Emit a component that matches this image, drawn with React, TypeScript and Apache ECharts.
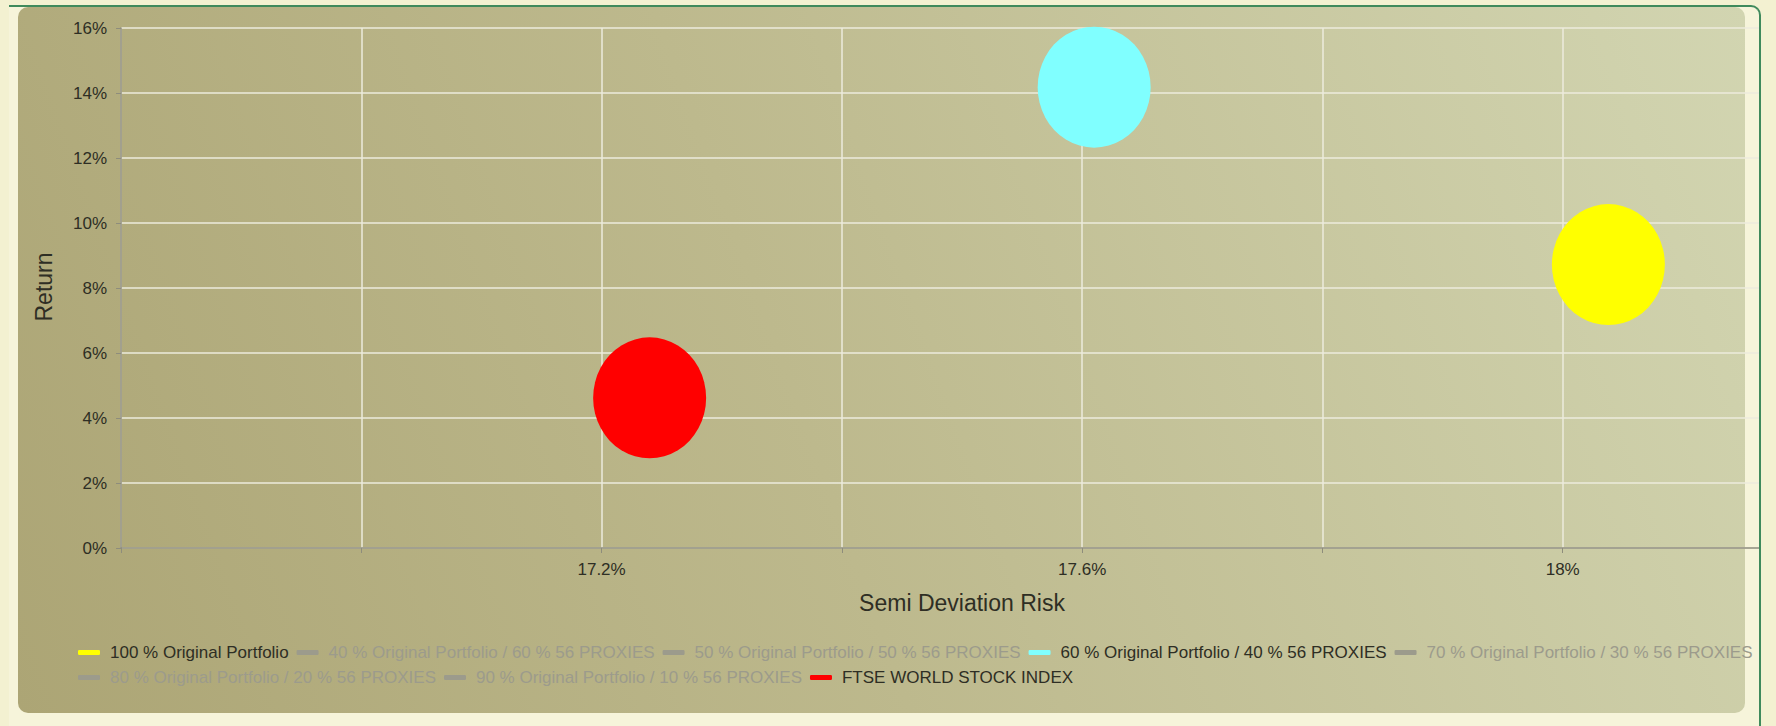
import React, { useEffect, useRef } from 'react';
import * as echarts from 'echarts';

// ---- data ----
const seriesNames = [
  '100 % Original Portfolio',
  '40 % Original Portfolio / 60 % 56 PROXIES',
  '50 % Original Portfolio / 50 % 56 PROXIES',
  '60 % Original Portfolio / 40 % 56 PROXIES',
  '70 % Original Portfolio / 30 % 56 PROXIES',
  '80 % Original Portfolio / 20 % 56 PROXIES',
  '90 % Original Portfolio / 10 % 56 PROXIES',
  'FTSE WORLD STOCK INDEX',
];
const seriesColors = ['#ffff00', '#7cb5ec', '#90ed7d', '#80ffff', '#f7a35c', '#8085e9', '#f15c80', '#ff0000'];
const seriesVisible = [true, false, false, true, false, false, false, true];

// [semi deviation risk %, return %]
const pointsOriginal100 = [[18.038, 8.72]];
const points40_60: number[][] = [];
const points50_50: number[][] = [];
const points60_40 = [[17.61, 14.18]];
const points70_30: number[][] = [];
const points80_20: number[][] = [];
const points90_10: number[][] = [];
const pointsFtse = [[17.24, 4.62]];
const seriesPoints = [pointsOriginal100, points40_60, points50_50, points60_40, points70_30, points80_20, points90_10, pointsFtse];

const xTickLabels = ['17.2%', '17.6%', '18%'];
const xMin = 16.8;
const xMax = 18.2;
const xStep = 0.2;
const yMin = 0;
const yMax = 16;
const yStep = 2;
const xAxisTitle = 'Semi Deviation Risk';
const yAxisTitle = 'Return';

const FONT = '"Liberation Sans", Arial, sans-serif';

export default function App() {
  const ref = useRef<HTMLDivElement>(null);

  useEffect(() => {
    if (!ref.current) return;
    const chart = echarts.init(ref.current, undefined, { renderer: 'svg' });
    const selected: Record<string, boolean> = {};
    seriesNames.forEach((n, i) => (selected[n] = seriesVisible[i]));

    chart.setOption({
      animation: false,
      backgroundColor: 'transparent',
      textStyle: { fontFamily: FONT },
      grid: { left: 103, right: 15, top: 21, bottom: 165, containLabel: false },
      legend: {
        type: 'plain',
        orient: 'horizontal',
        left: 60,
        top: 637,
        width: 1700,
        padding: 0,
        itemGap: 8,
        itemWidth: 22,
        itemHeight: 5,
        icon: 'roundRect',
        inactiveColor: '#9c9b8c',
        selected,
        textStyle: { fontSize: 17, color: '#2e2e24', fontFamily: FONT, lineHeight: 14, padding: [0, 0, 0, 5] },
        data: seriesNames,
      },
      xAxis: {
        type: 'value',
        min: xMin,
        max: xMax,
        interval: xStep,
        name: xAxisTitle,
        nameLocation: 'middle',
        nameGap: 43,
        nameTextStyle: { fontSize: 23, color: '#2e2e24', fontFamily: FONT },
        axisLine: { show: true, lineStyle: { color: '#8e8d7c', width: 1.5 } },
        axisTick: { show: true, length: 5, lineStyle: { color: '#8e8d7c' } },
        axisLabel: {
          fontSize: 17,
          color: '#2e2e24',
          margin: 13,
          fontFamily: FONT,
          formatter: (v: number) => {
            const s = `${+v.toFixed(1)}%`;
            return xTickLabels.includes(s) ? s : '';
          },
        },
        splitLine: { show: true, lineStyle: { color: '#ecebdc', width: 1.5 } },
      },
      yAxis: {
        type: 'value',
        min: yMin,
        max: yMax,
        interval: yStep,
        axisLine: { show: true, lineStyle: { color: '#8e8d7c', width: 1.5 } },
        axisTick: { show: true, length: 5, lineStyle: { color: '#8e8d7c' } },
        axisLabel: { fontSize: 17, color: '#2e2e24', margin: 14, fontFamily: FONT, formatter: '{value}%' },
        splitLine: { show: true, lineStyle: { color: '#ecebdc', width: 1.5 } },
      },
      graphic: [
        {
          type: 'text',
          x: 26,
          y: 280,
          rotation: Math.PI / 2,
          style: {
            text: yAxisTitle,
            fontSize: 23,
            fontFamily: FONT,
            fill: '#2e2e24',
            textAlign: 'center',
            textVerticalAlign: 'middle',
          },
        },
      ],
      series: seriesNames.map((name, i) => ({
        name,
        type: 'scatter',
        data: seriesPoints[i],
        symbol: 'circle',
        symbolSize: [113, 121],
        itemStyle: { color: seriesColors[i], opacity: 1 },
        emphasis: { disabled: true },
      })),
    });
    return () => chart.dispose();
  }, []);

  return (
    <div style={{ position: 'fixed', left: 0, top: 0, width: 1776, height: 726, overflow: 'hidden', background: '#f3f1d1' }}>
      <div
        style={{
          position: 'absolute',
          left: 9,
          top: 5,
          width: 1750,
          height: 740,
          borderTop: '2px solid #3f8a5c',
          borderRight: '2px solid #3f8a5c',
          borderTopRightRadius: 10,
          borderBottomRightRadius: 10,
          background: '#f6f4da',
          overflow: 'hidden',
        }}
      >
        <div
          style={{
            position: 'absolute',
            left: 9,
            top: 0,
            width: 1727,
            height: 706,
            borderRadius: 10,
            background: 'linear-gradient(70deg, #aca575 0%, #bdb98d 45%, #d2d5b1 100%)',
          }}
        />
        <div ref={ref} style={{ position: 'absolute', left: 9, top: 0, width: 1800, height: 706 }} />
      </div>
    </div>
  );
}
